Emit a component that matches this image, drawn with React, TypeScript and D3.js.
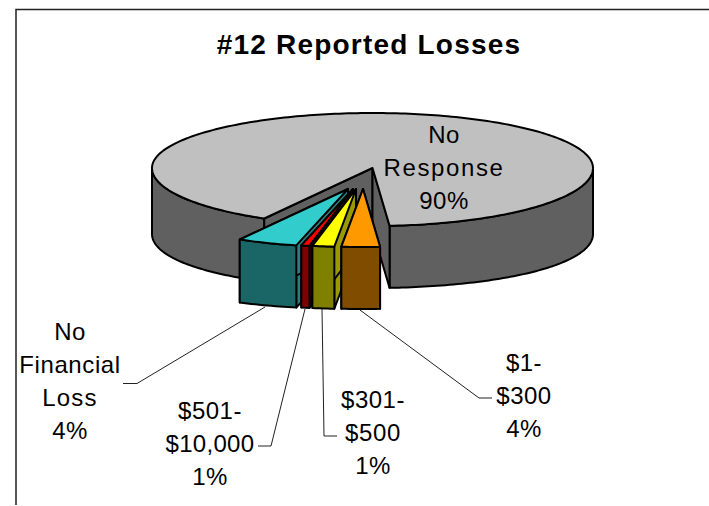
import React from "react";
import * as d3 from "d3";

// Slices in drawing order around the pie, clockwise from the left edge of the big slice.
const categories = ["No Response", "$1-$300", "$301-$500", "$501-$10,000", "No Financial Loss"];
// Angular shares (printed percentages are in the labels below)
const shares = [90.6, 2.8, 1.6, 0.6, 4.4];

const topColors = ["#C0C0C0", "#FF9900", "#FFFF00", "#FF0000", "#33CCCC"];
const frontColors = ["#606060", "#804D00", "#808000", "#800000", "#1A6666"];
const wallColors = ["#606060", "#804D00", "#999900", "#400000", "#268080"];

const W = 709, H = 506;
const CX = 372.5, CY = 168, RX = 220.5, RY_BACK = 55, RY_FRONT = 58;
const DEPTH_FRONT = 62, DEPTH_SIDE = 66;
const START = (209.4 * Math.PI) / 180;
// Explosion offset of each slice's apex from the pie centre
const explodeX = [0, -9.5, -16.5, -19.5, -24.5];
const explodeY = [0, 21, 21, 21, 21];

const labelLines = [
  ["No", "Response", "90%"],
  ["$1-", "$300", "4%"],
  ["$301-", "$500", "1%"],
  ["$501-", "$10,000", "1%"],
  ["No", "Financial", "Loss", "4%"],
];
const labelSpacing = [
  [0.5, 1.6, 0.5],
  [0.5, 0.5, 0.5],
  [0.5, 0.7, 0.5],
  [0.5, 0.3, 0.5],
  [0.5, 0.6, 1.2, 0.5],
];
const labelX = [444, 524, 373, 210, 70];
const labelY = [143, 371, 408, 419, 340];
const leaders: number[][][] = [
  [],
  [[492, 398], [479, 398], [360, 310]],
  [[337, 436], [324, 436], [322, 309]],
  [[258, 446], [271, 446], [305, 309]],
  [[123, 383.5], [137, 383.5], [265, 307]],
];

const pie = d3.pie<number>().sort(null).startAngle(START).endAngle(START + 2 * Math.PI);
const arcs = pie(shares);
const xs = d3.scaleLinear().domain([-1, 1]).range([CX - RX, CX + RX]);
const ys = d3.scaleLinear().domain([-1, 0, 1]).range([CY + RY_FRONT, CY, CY - RY_BACK]);
const depthScale = d3.scaleLinear().domain([0, 1]).range([DEPTH_SIDE, DEPTH_FRONT]);
const path = d3.line<number[]>().x((d) => d[0]).y((d) => d[1]).curve(d3.curveLinear);

// each point is [x, y, depth below it]
const rimPoints = (a0: number, a1: number, dx: number, dy: number) => {
  const n = Math.max(2, Math.ceil(Math.abs(a1 - a0) / 0.02));
  return d3.range(n + 1).map((i) => {
    const a = a0 + ((a1 - a0) * i) / n;
    const c = Math.cos(a);
    return [xs(Math.sin(a)) + dx, ys(c) + dy, depthScale(c * c)];
  });
};
const drop = (pts: number[][]) => pts.map(([x, y, d]) => [x, y + d, d]);
const closed = (pts: number[][]) => path(pts) + "Z";
const extrude = (pts: number[][]) => closed([...pts, ...drop(pts).reverse()]);

const stroke = { stroke: "#000", strokeWidth: 2, strokeLinejoin: "round" as const };

export default function App() {
  const big = arcs[0];
  const apex = [xs(0), ys(0), DEPTH_FRONT];
  const bigTop = rimPoints(big.startAngle, big.endAngle, 0, 0);
  const leftWall = rimPoints(big.startAngle, 1.5 * Math.PI, 0, 0);
  const rightWall = rimPoints(2.5 * Math.PI, big.endAngle, 0, 0);
  const bigL = bigTop[0];
  const bigR = bigTop[bigTop.length - 1];
  // back-to-front: No Financial Loss, $501, $301, $1
  const order = [4, 3, 2, 1];
  return (
    <svg width={W} height={H} style={{ position: "fixed", left: 0, top: 0 }} fontFamily="'Liberation Sans', Arial, sans-serif">
      <rect width={W} height={H} fill="#fff" />
      <path d="M16,505V9.5H709" fill="none" stroke="#222" strokeWidth={1.5} />
      <text x={369} y={54} textAnchor="middle" fontSize={28} fontWeight="bold" letterSpacing={1.2} fill="#000">
        #12 Reported Losses
      </text>

      <path d={extrude(leftWall)} fill={frontColors[0]} {...stroke} />
      <path d={extrude(rightWall)} fill={frontColors[0]} {...stroke} />
      <path d={extrude([bigL, apex])} fill={wallColors[0]} {...stroke} />
      <path d={extrude([apex, bigR])} fill={wallColors[0]} {...stroke} />
      <path d={closed([apex, ...bigTop])} fill={topColors[0]} {...stroke} />

      {order.map((i) => {
        const a = arcs[i];
        const dx = explodeX[i], dy = explodeY[i];
        const tip = [xs(0) + dx, ys(0) + dy, DEPTH_FRONT];
        const rim = rimPoints(a.startAngle, a.endAngle, dx, dy);
        return (
          <g key={categories[i]}>
            <path d={extrude([tip, rim[0]])} fill={wallColors[i]} {...stroke} />
            <path d={extrude([tip, rim[rim.length - 1]])} fill={wallColors[i]} {...stroke} />
            <path d={extrude(rim)} fill={frontColors[i]} {...stroke} />
            <path d={closed([tip, ...rim])} fill={topColors[i]} {...stroke} />
          </g>
        );
      })}

      {leaders.map((pts, i) =>
        pts.length ? <path key={i} d={path(pts) as string} fill="none" stroke="#222" strokeWidth={1} /> : null
      )}

      {labelLines.map((lines, i) => (
        <text key={i} textAnchor="middle" fontSize={24} fill="#000">
          {lines.map((s, j) => (
            <tspan key={j} x={labelX[i]} y={labelY[i] + j * 33} letterSpacing={labelSpacing[i][j]}>
              {s}
            </tspan>
          ))}
        </text>
      ))}
    </svg>
  );
}
